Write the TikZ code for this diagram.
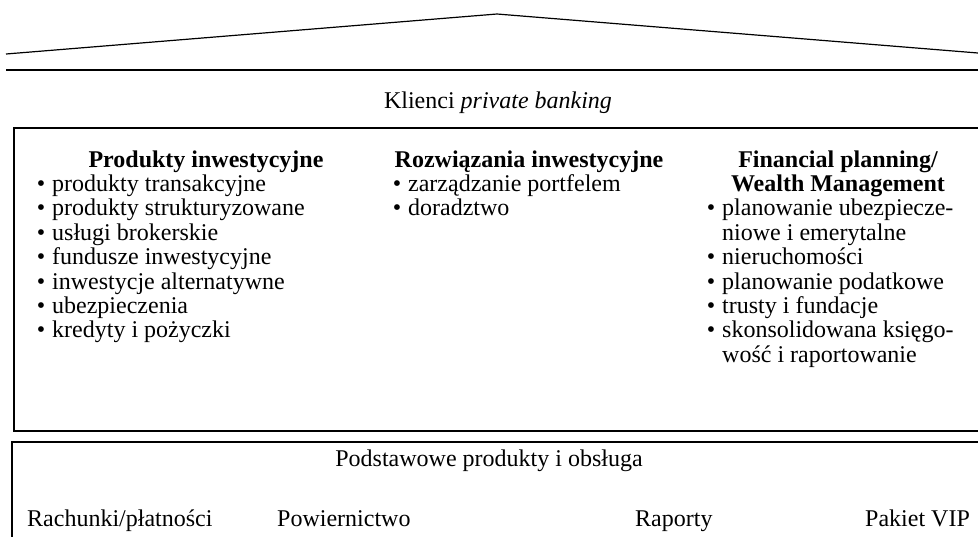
\documentclass[tikz,border=0pt]{standalone}
\usepackage{fontspec}
\setmainfont{Liberation Serif}
\newcommand{\pkt}{\llap{\textbullet\hspace{7pt}}}
\begin{document}
\begin{tikzpicture}[x=1pt,y=-1pt,
    every node/.style={inner sep=0pt, font=\fontsize{24}{24.4}\selectfont},
    head/.style={font=\fontsize{24}{24.4}\selectfont\bfseries, anchor=base},
    item/.style={anchor=base west},
    rama/.style={line width=1.4pt}]
    \useasboundingbox (0,0) rectangle (978,536);
    % dach
    \coordinate (dl) at (6,54);
    \coordinate (dt) at (497,14);
    \coordinate (dr) at (978,53);
    \draw[line width=1.2pt] (dl) -- (dt) -- (dr);
    \draw[rama] (6,70) -- (978,70);
    \node[anchor=base] (klienci) at (498,108) {Klienci \textit{private banking}};
    % srodkowa rama
    \draw[rama] (985,128) -- (14,128) -- (14,431) -- (985,431);
    \node[head] (prod) at (206,167) {Produkty inwestycyjne};
    \foreach \txt [count=\i] in {produkty transakcyjne, produkty strukturyzowane,
        usługi brokerskie, fundusze inwestycyjne, inwestycje alternatywne,
        ubezpieczenia, kredyty i pożyczki}
        \node[item] (prod\i) at (52,167+\i*24.4) {\pkt\txt};
    \node[head] (rozw) at (529,167) {Rozwiązania inwestycyjne};
    \foreach \txt [count=\i] in {zarządzanie portfelem, doradztwo}
        \node[item] (rozw\i) at (408,167+\i*24.4) {\pkt\txt};
    \node[head] (fin) at (838,167) {Financial planning/};
    \node[head] (wealth) at (838,191.4) {Wealth Management};
    \foreach \txt [count=\i] in {\pkt planowanie ubezpiecze-, niowe i emerytalne,
        \pkt nieruchomości, \pkt planowanie podatkowe, \pkt trusty i fundacje,
        \pkt skonsolidowana księgo-, wość i raportowanie}
        \node[item] (fin\i) at (722,191.4+\i*24.4) {\txt};
    % dolna rama
    \draw[rama] (985,442) -- (12,442) -- (12,545);
    \node[anchor=base] (podst) at (489,466) {Podstawowe produkty i obsługa};
    \node[item] (rach) at (27,526) {Rachunki/płatności};
    \node[item] (pow) at (277,526) {Powiernictwo};
    \node[item] (rap) at (635,526) {Raporty};
    \node[item] (vip) at (865,526) {Pakiet VIP};
\end{tikzpicture}
\end{document}
